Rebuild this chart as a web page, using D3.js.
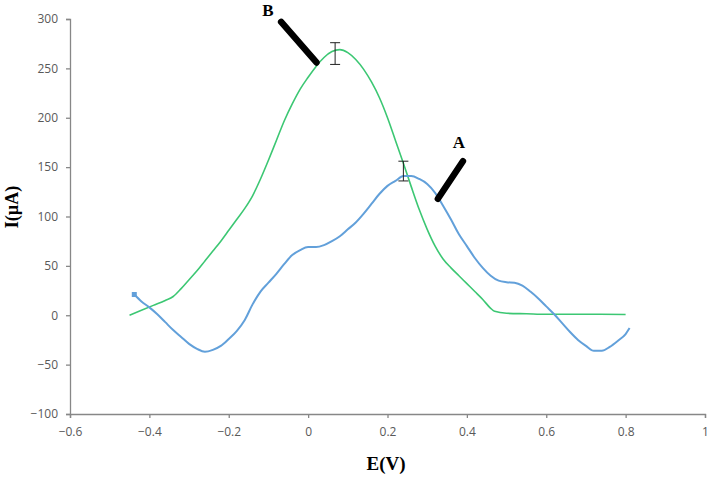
<!DOCTYPE html>
<html><head><meta charset="utf-8">
<script src="https://cdn.jsdelivr.net/npm/d3@7"></script>
<style>
body{margin:0;background:#fff;}
svg{display:block;}
</style></head>
<body>
<svg id="chart" width="709" height="478"></svg>
<script>
// ---- data ----
const xTicks = [-0.6, -0.4, -0.2, 0, 0.2, 0.4, 0.6, 0.8, 1];
const yTicks = [-100, -50, 0, 50, 100, 150, 200, 250, 300];

// Curve A (blue)
const aE = [-0.438,-0.42,-0.40,-0.38,-0.36,-0.34,-0.32,-0.30,-0.28,-0.26,-0.24,-0.22,-0.20,-0.18,-0.16,-0.14,-0.12,-0.10,-0.08,-0.06,-0.04,-0.02,0.00,0.02,0.04,0.06,0.08,0.10,0.12,0.14,0.16,0.18,0.20,0.22,0.24,0.26,0.28,0.30,0.32,0.34,0.36,0.38,0.40,0.42,0.44,0.46,0.48,0.50,0.52,0.54,0.56,0.58,0.60,0.62,0.64,0.66,0.68,0.70,0.72,0.74,0.76,0.78,0.80,0.81];
const aI = [21,14,8,1,-7,-15,-22,-29,-34,-37,-35,-31,-24,-16,-5,11,24,33,42,52,61,66,69,69,71,75,80,87,94,103,113,123,131,136,141,141,138,133,124,111,97,82,70,58,48,40,35,33.5,33,30,24,17,9,1,-8,-17,-25,-31,-36,-36,-32,-26,-19,-13];

// Curve B (green)
const bE = [-0.45,-0.42,-0.39,-0.36,-0.34,-0.32,-0.30,-0.28,-0.26,-0.24,-0.22,-0.20,-0.18,-0.16,-0.14,-0.12,-0.10,-0.08,-0.06,-0.04,-0.02,0.00,0.02,0.04,0.06,0.08,0.10,0.12,0.14,0.16,0.18,0.20,0.22,0.24,0.26,0.28,0.30,0.32,0.34,0.36,0.38,0.40,0.42,0.44,0.46,0.47,0.50,0.55,0.60,0.70,0.80];
const bI = [0,5,10,15,19,27,36,45,55,65,75,86,97,108,121,138,157,177,197,214,229,241,252,261,267,269,266,259,249,236,220,200,177,154,130,107,87,70,57,48,40,32,24,16,7,4,2,1.5,1,1,0.7];

// error bars [E, mean, half-width]
const errE = [0.068, 0.240];
const errMean = [265, 146];
const errHalf = [11, 10];

// annotations
const labels = ["B", "A"];
const labelE = [-0.101, 0.380];
const labelI = [309, 175];
const pointerFromE = [-0.068, 0.390];
const pointerFromI = [297, 156];
const pointerToE = [0.021, 0.327];
const pointerToI = [256, 118];

// ---- chart ----
const svg = d3.select("#chart");
const x = d3.scaleLinear().domain([-0.6, 1]).range([70, 705]);
const y = d3.scaleLinear().domain([-100, 300]).range([414, 19]);

const axisColor = "#878787";
const tickText = "#595959";

const xAxis = svg.append("g").attr("transform", `translate(0,${y(-100)})`)
  .call(d3.axisBottom(x).tickValues(xTicks).tickSize(4).tickPadding(9)
    .tickFormat(d => d === 0 ? "0" : d3.format("")(d)));
const yAxis = svg.append("g").attr("transform", `translate(${x(-0.6)},0)`)
  .call(d3.axisLeft(y).tickValues(yTicks).tickSize(4).tickPadding(8));

[xAxis, yAxis].forEach(g => {
  g.select(".domain").attr("stroke", axisColor).attr("stroke-width", 1.3);
  g.selectAll(".tick line").attr("stroke", axisColor).attr("stroke-width", 1.3);
  g.selectAll(".tick text").attr("fill", tickText)
    .style("font-family", "'Open Sans', sans-serif").style("font-size", "12px");
});

// lines
const lineGen = d3.line().x(d => x(d[0])).y(d => y(d[1])).curve(d3.curveMonotoneX);
const bData = bE.map((e, i) => [e, bI[i]]);
const aData = aE.map((e, i) => [e, aI[i]]);

svg.append("path").datum(bData).attr("d", lineGen)
  .attr("fill", "none").attr("stroke", "#3cc773").attr("stroke-width", 1.6);
svg.append("path").datum(aData).attr("d", lineGen)
  .attr("fill", "none").attr("stroke", "#62a0da").attr("stroke-width", 2);
svg.append("rect").attr("x", x(aE[0]) - 2.5).attr("y", y(aI[0]) - 2.5)
  .attr("width", 5).attr("height", 5).attr("fill", "#62a0da");

// error bars
errE.forEach((e, i) => {
  const g = svg.append("g").attr("stroke", "#222").attr("stroke-width", 1);
  const cx = x(e), t = y(errMean[i] + errHalf[i]), b = y(errMean[i] - errHalf[i]);
  g.append("line").attr("x1", cx).attr("x2", cx).attr("y1", t).attr("y2", b);
  g.append("line").attr("x1", cx - 5).attr("x2", cx + 5).attr("y1", t).attr("y2", t);
  g.append("line").attr("x1", cx - 5).attr("x2", cx + 5).attr("y1", b).attr("y2", b);
});

// pointers and labels
labels.forEach((l, i) => {
  svg.append("line")
    .attr("x1", x(pointerFromE[i])).attr("y1", y(pointerFromI[i]))
    .attr("x2", x(pointerToE[i])).attr("y2", y(pointerToI[i]))
    .attr("stroke", "#000").attr("stroke-width", 6.5).attr("stroke-linecap", "round");
  svg.append("text").attr("x", x(labelE[i])).attr("y", y(labelI[i]))
    .attr("text-anchor", "middle").attr("dominant-baseline", "central")
    .style("font-family", "'Liberation Serif', serif").style("font-weight", "bold")
    .style("font-size", "17px").text(l);
});

// axis titles
svg.append("text").attr("x", 386).attr("y", 463)
  .attr("text-anchor", "middle").attr("dominant-baseline", "central")
  .style("font-family", "'Liberation Serif', serif").style("font-weight", "bold")
  .style("font-size", "19px").text("E(V)");
svg.append("text").attr("transform", "translate(12,207) rotate(-90)")
  .attr("text-anchor", "middle").attr("dominant-baseline", "central")
  .style("font-family", "'Liberation Serif', serif").style("font-weight", "bold")
  .style("font-size", "18px").text("I(µA)");
</script>
</body></html>
